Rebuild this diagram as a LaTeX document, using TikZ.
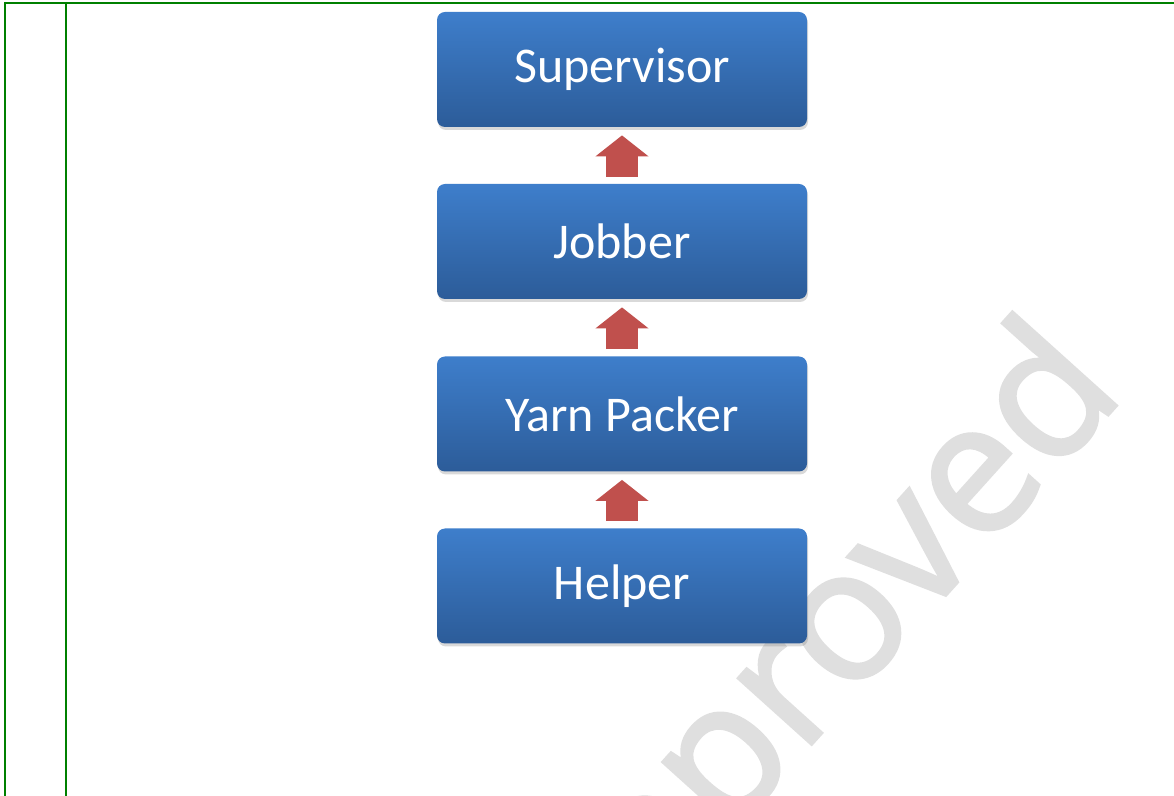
\documentclass[tikz,border=0pt]{standalone}
\usepackage{fontspec}
\usepackage{xcolor}
\usepackage{tikz}
\usetikzlibrary{arrows.meta, shadows}
\newfontfamily\boxfont{Carlito}
\newfontfamily\markfont{Open Sans}[FakeBold=1.8]
\definecolor{boxtop}{RGB}{62,126,203}
\definecolor{boxbot}{RGB}{44,92,153}
\definecolor{uparrow}{RGB}{192,80,77}
\definecolor{rule}{RGB}{0,128,0}
\definecolor{mark}{RGB}{223,223,223}

\begin{document}
\begin{tikzpicture}[x=0.5pt, y=-0.5pt,
  level/.style={rounded corners=4pt, minimum width=185pt, minimum height=57.5pt,
                top color=boxtop, bottom color=boxbot, text=white,
                font=\boxfont\fontsize{25}{30}\selectfont,
                drop shadow={shadow xshift=0.5pt, shadow yshift=-1.5pt, opacity=0.3}},
  uparr/.style={-{Triangle[width=26pt, length=10.5pt]}, line width=16pt,
                draw=uparrow, shorten <=3.5pt, shorten >=4pt},
  border/.style={draw=rule, line width=1pt}
]
\clip (0,0) rectangle (1174,796);

%% Watermark
\node[font=\markfont\fontsize{92}{110}\selectfont, text=mark, rotate=48]
  (stamp) at (814,670) {Approved};

%% Table rules
\draw[border] (4,3) -- (1174,3);
\draw[border] (5,2) -- (5,796);
\draw[border] (66,2) -- (66,796);

%% Levels
\node[level] (sup)    at (622, 69.5) {Supervisor};
\node[level] (jobber) at (622,241.5) {Jobber};
\node[level] (packer) at (622,  414) {Yarn Packer};
\node[level] (helper) at (622,  586) {Helper};

%% Promotion arrows
\draw[uparr] (helper) -- (packer);
\draw[uparr] (packer) -- (jobber);
\draw[uparr] (jobber) -- (sup);

\end{tikzpicture}
\end{document}
